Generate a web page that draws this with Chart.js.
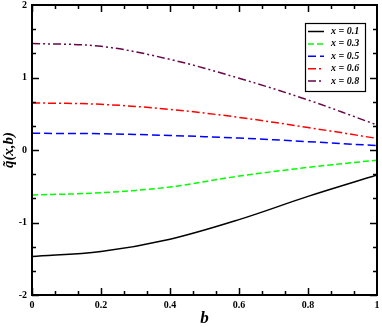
<!DOCTYPE html>
<html><head><meta charset="utf-8">
<script src="https://cdn.jsdelivr.net/npm/chart.js@4"></script>
<style>html,body{margin:0;padding:0;background:#fff}#wrap{width:382px;height:327px}</style>
</head><body><div id="wrap"><canvas id="c"></canvas></div>
<script>
const bValues = [0, 0.2, 0.4, 0.6, 0.8, 1.0];
const q01 = [-1.47, -1.40, -1.23, -0.96, -0.64, -0.345];
const q03 = [-0.62, -0.59, -0.51, -0.36, -0.24, -0.14];
const q05 = [0.23, 0.225, 0.20, 0.165, 0.115, 0.06];
const q06 = [0.65, 0.63, 0.56, 0.45, 0.31, 0.16];
const q08 = [1.47, 1.43, 1.25, 0.99, 0.69, 0.345];
const seriesLabels = ['x = 0.1', 'x = 0.3', 'x = 0.5', 'x = 0.6', 'x = 0.8'];
const xTicks = [0, 0.2, 0.4, 0.6, 0.8, 1];
const yTicks = [-2, -1, 0, 1, 2];

const serif = "'Liberation Serif','DejaVu Serif',serif";
function pts(ys){return bValues.map((b,i)=>({x:b,y:ys[i]}));}
const styles = [
  {c:'#000000', d:[]},
  {c:'#00ff00', d:[6,3]},
  {c:'#0000ff', d:[8,4]},
  {c:'#ff0000', d:[8,3,2,3]},
  {c:'#670748', d:[8,3,2,3,2,3]}
];
const allQ = [q01,q03,q05,q06,q08];
const datasets = allQ.map((q,i)=>({label:seriesLabels[i],data:pts(q),borderColor:styles[i].c,borderDash:styles[i].d,borderWidth:1.5,pointRadius:0,tension:0.35,fill:false}));

const framePlugin = {
  id:'frame',
  afterDraw(chart){
    const ctx=chart.ctx, a=chart.chartArea, xs=chart.scales.x, ys=chart.scales.y;
    ctx.save();
    ctx.strokeStyle='#000'; ctx.lineWidth=2; ctx.setLineDash([]);
    ctx.strokeRect(a.left,a.top,a.right-a.left,a.bottom-a.top);
    ctx.lineWidth=1.5;
    ctx.beginPath();
    for(let i=0;i<xTicks.length-1;i++){
      for(let k=0;k<3;k++){
        const v=xTicks[i]+(xTicks[i+1]-xTicks[i])*k/3;
        const p=Math.round(xs.getPixelForValue(v))+0.5;
        const L=k===0?7:4;
        ctx.moveTo(p,a.bottom);ctx.lineTo(p,a.bottom-L);
        ctx.moveTo(p,a.top);ctx.lineTo(p,a.top+L);
      }
    }
    for(let i=0;i<yTicks.length-1;i++){
      for(let k=0;k<3;k++){
        const v=yTicks[i]+(yTicks[i+1]-yTicks[i])*k/3;
        const p=Math.round(ys.getPixelForValue(v))+0.5;
        const L=k===0?7:4;
        ctx.moveTo(a.left,p);ctx.lineTo(a.left+L,p);
        ctx.moveTo(a.right,p);ctx.lineTo(a.right-L,p);
      }
    }
    ctx.stroke();
    const lx=305, ly=23, lw=60, lh=68;
    ctx.fillStyle='#fff'; ctx.fillRect(lx,ly,lw,lh);
    ctx.lineWidth=1.2; ctx.strokeStyle='#000';
    ctx.strokeRect(lx+0.5,ly+0.5,lw,lh);
    ctx.font="bold italic 10px "+serif;
    ctx.textBaseline='middle';
    chart.data.datasets.forEach((ds,i)=>{
      const y=ly+8.5+i*12.4;
      ctx.strokeStyle=ds.borderColor; ctx.lineWidth=1.5; ctx.setLineDash(ds.borderDash);
      ctx.beginPath(); ctx.moveTo(lx+3,y); ctx.lineTo(lx+19,y); ctx.stroke();
      ctx.setLineDash([]);
      ctx.fillStyle='#000'; ctx.fillText(ds.label,lx+26,y);
    });
    ctx.restore();
  }
};

new Chart(document.getElementById('c'),{
  type:'line',
  data:{datasets},
  options:{
    responsive:true, maintainAspectRatio:false, animation:false,
    layout:{padding:{top:5,right:5,left:0,bottom:0}},
    plugins:{legend:{display:false},tooltip:{enabled:false}},
    scales:{
      x:{type:'linear',min:0,max:1,
        afterBuildTicks(s){s.ticks=xTicks.map(v=>({value:v}));},
        afterFit(s){s.height=32;s.paddingLeft=0;s.paddingRight=0;},
        grid:{display:false,drawTicks:false},border:{display:false},
        ticks:{color:'#000',font:{family:serif,weight:'bold',size:10},padding:4,maxRotation:0,
          callback:v=>String(v)},
        title:{display:true,text:'b',color:'#000',font:{family:serif,weight:'bold',style:'italic',size:17},padding:{top:0,bottom:-2}}
      },
      y:{type:'linear',min:-2,max:2,
        afterBuildTicks(s){s.ticks=yTicks.map(v=>({value:v}));},
        afterFit(s){s.width=32;s.paddingTop=0;s.paddingBottom=0;},
        grid:{display:false,drawTicks:false},border:{display:false},
        ticks:{color:'#000',font:{family:serif,weight:'bold',size:10},padding:5,callback:v=>String(v)},
        title:{display:true,text:'q\u0303(x,b)',color:'#000',font:{family:serif,weight:'bold',style:'italic',size:15},padding:{top:0,bottom:0}}
      }
    }
  },
  plugins:[framePlugin]
});
</script></body></html>
